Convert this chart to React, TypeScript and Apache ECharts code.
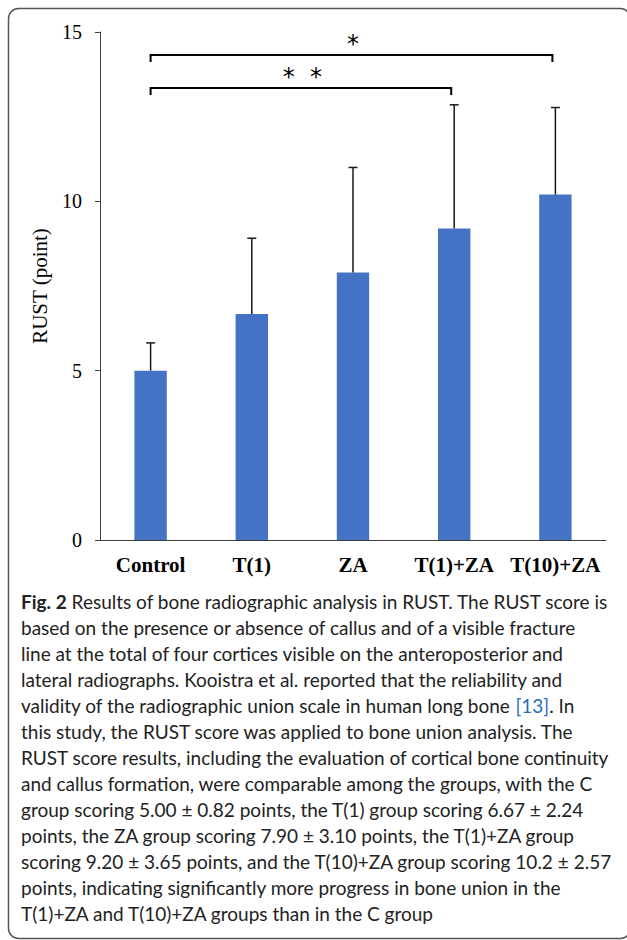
import React, { useEffect, useRef } from "react";
import * as echarts from "echarts";

const categories = ["Control", "T(1)", "ZA", "T(1)+ZA", "T(10)+ZA"];
const means = [5.0, 6.67, 7.9, 9.2, 10.2];
const sds = [0.82, 2.24, 3.1, 3.65, 2.57];
const yTicks = [0, 5, 10, 15];
// significance brackets: [from category index, to category index, bracket height]
const brackets = [
  [0, 4, 14.32],
  [0, 3, 13.35],
];
const bracketLabels = ["*", "*  *"];

const captionLines = [
  "{b|Fig. 2} Results of bone radiographic analysis in RUST. The RUST score is",
  "based on the presence or absence of callus and of a visible fracture",
  "line at the total of four cortices visible on the anteroposterior and",
  "lateral radiographs. Kooistra et al. reported that the reliability and",
  "validity of the radiographic union scale in human long bone {l|[13]}. In",
  "this study, the RUST score was applied to bone union analysis. The",
  "RUST score results, including the evaluation of cortical bone continuity",
  "and callus formation, were comparable among the groups, with the C",
  "group scoring 5.00 ± 0.82 points, the T(1) group scoring 6.67 ± 2.24",
  "points, the ZA group scoring 7.90 ± 3.10 points, the T(1)+ZA group",
  "scoring 9.20 ± 3.65 points, and the T(10)+ZA group scoring 10.2 ± 2.57",
  "points, indicating significantly more progress in bone union in the",
  "T(1)+ZA and T(10)+ZA groups than in the C group",
];

const SERIF = "'Liberation Serif', 'Times New Roman', serif";
const SANS = "Lato, Roboto, sans-serif";

export default function App() {
  const ref = useRef<HTMLDivElement>(null);
  useEffect(() => {
    if (!ref.current) return;
    const chart = echarts.init(ref.current, undefined, { renderer: "svg" });
    const captionFontSize = 19;
    const lineGap = 26;
    const captionGraphics = captionLines.map((t, i) => ({
      type: "text",
      left: 21,
      top: 592 + i * lineGap,
      style: {
        text: t,
        fontFamily: SANS,
        fontSize: captionFontSize,
        fill: "#222",
        rich: {
          b: { fontWeight: "bold", fontFamily: SANS, fontSize: captionFontSize, fill: "#222" },
          l: { fontFamily: SANS, fontSize: captionFontSize, fill: "#2a6ebb" },
        },
      },
    }));

    chart.setOption({
      animation: false,
      backgroundColor: "#fff",
      grid: { left: 100, right: 21, top: 32, bottom: 400, containLabel: false },
      xAxis: {
        type: "category",
        data: categories,
        axisTick: { show: false },
        axisLine: { lineStyle: { color: "#404040", width: 1 } },
        axisLabel: {
          fontFamily: SERIF,
          fontWeight: "bold",
          fontSize: 21,
          color: "#000",
          margin: 14,
          interval: 0,
        },
      },
      yAxis: {
        type: "value",
        min: 0,
        max: 15,
        interval: 5,
        name: "RUST (point)",
        nameLocation: "middle",
        nameGap: 50,
        nameTextStyle: { fontFamily: SERIF, fontSize: 21, color: "#000" },
        axisLine: { show: true, lineStyle: { color: "#404040", width: 1 } },
        axisTick: { show: true, length: 5, lineStyle: { color: "#404040" } },
        splitLine: { show: false },
        axisLabel: {
          fontFamily: SERIF,
          fontSize: 20,
          color: "#000",
          margin: 18,
          formatter: (v: number) => (yTicks.includes(v) ? String(v) : ""),
        },
      },
      series: [
        {
          type: "bar",
          data: means,
          barWidth: "32%",
          itemStyle: { color: "#4472C4" },
          z: 2,
        },
        {
          type: "custom",
          z: 3,
          data: means.map((m, i) => [i, m, sds[i]]),
          encode: { x: 0, y: 1 },
          renderItem: (params: any, api: any) => {
            const x = api.value(0);
            const v = api.value(1);
            const e = api.value(2);
            const p0 = api.coord([x, v]);
            const p1 = api.coord([x, v + e]);
            const style = { stroke: "#1a1a1a", lineWidth: 1.5 };
            return {
              type: "group",
              children: [
                { type: "line", shape: { x1: p0[0], y1: p0[1], x2: p1[0], y2: p1[1] }, style },
                { type: "line", shape: { x1: p1[0] - 4.5, y1: p1[1], x2: p1[0] + 4.5, y2: p1[1] }, style },
              ],
            };
          },
        },
        {
          type: "custom",
          z: 4,
          data: brackets,
          encode: { x: 0, y: 2 },
          renderItem: (params: any, api: any) => {
            const a = api.value(0);
            const b = api.value(1);
            const h = api.value(2);
            const pL = api.coord([a, h]);
            const pR = api.coord([b, h]);
            const drop = 7;
            const mid = (pL[0] + pR[0]) / 2;
            return {
              type: "group",
              children: [
                {
                  type: "polyline",
                  shape: {
                    points: [
                      [pL[0], pL[1] + drop],
                      [pL[0], pL[1]],
                      [pR[0] - 3, pR[1]],
                      [pR[0] - 3, pR[1] + drop],
                    ],
                  },
                  style: { stroke: "#000", lineWidth: 2, fill: "none" },
                },
                {
                  type: "text",
                  x: mid,
                  y: pL[1] + 1,
                  style: {
                    text: bracketLabels[params.dataIndex],
                    fontFamily: "'DejaVu Sans', sans-serif",
                    fontSize: 24,
                    fill: "#000",
                    align: "center",
                    verticalAlign: "bottom",
                  },
                },
              ],
            };
          },
        },
      ],
      graphic: [
        {
          type: "rect",
          shape: { x: 8.5, y: 8.5, width: 622, height: 930, r: 10 },
          style: { fill: "none", stroke: "#555", lineWidth: 1.5 },
          z: 10,
        },
        ...captionGraphics,
      ],
    });
    return () => chart.dispose();
  }, []);
  return (
    <div
      ref={ref}
      style={{ position: "absolute", left: 0, top: 0, width: 627, height: 940 }}
    />
  );
}
